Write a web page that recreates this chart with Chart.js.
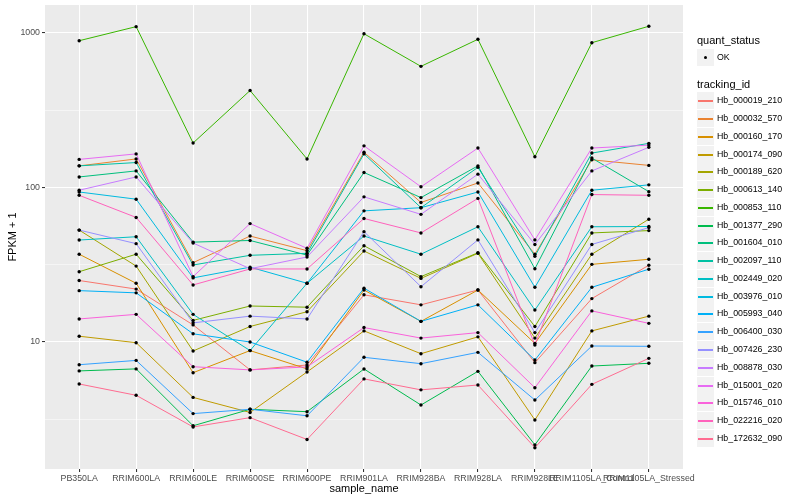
<!DOCTYPE html>
<html>
<head>
<meta charset="utf-8">
<script src="https://cdn.jsdelivr.net/npm/chart.js@4.4.1/dist/chart.umd.min.js"></script>
<style>
  html, body { margin: 0; padding: 0; background: #fff; }
  #wrap { position: relative; width: 800px; height: 500px; font-family: "Liberation Sans", Arial, sans-serif; }
  #legend div { position: absolute; white-space: nowrap; }
  .ttl { font-size: 11px; color: #000; line-height: 13px; }
  .lbl { font-size: 8.8px; color: #000; line-height: 11px; }
  .key { width: 17px; height: 17px; background: #f2f2f2; }
</style>
</head>
<body>
<div id="wrap">
  <canvas id="chart" width="800" height="500"></canvas>
  <div id="legend"></div>
</div>
<script>
const SAMPLES = ['PB350LA', 'RRIM600LA', 'RRIM600LE', 'RRIM600SE', 'RRIM600PE', 'RRIM901LA',
                 'RRIM928BA', 'RRIM928LA', 'RRIM928LE', 'RRIM1105LA_Control', 'RRIM1105LA_Stressed'];

const TRACKING_IDS = ['Hb_000019_210', 'Hb_000032_570', 'Hb_000160_170', 'Hb_000174_090', 'Hb_000189_620',
                      'Hb_000613_140', 'Hb_000853_110', 'Hb_001377_290', 'Hb_001604_010', 'Hb_002097_110',
                      'Hb_002449_020', 'Hb_003976_010', 'Hb_005993_040', 'Hb_006400_030', 'Hb_007426_230',
                      'Hb_008878_030', 'Hb_015001_020', 'Hb_015746_010', 'Hb_022216_020', 'Hb_172632_090'];

const COLORS = ['#F8766D', '#EA8331', '#D89000', '#C09B00', '#A3A500', '#7CAE00', '#39B600', '#00BB4E',
                '#00BF7D', '#00C1A3', '#00BFC4', '#00BAE0', '#00B0F6', '#35A2FF', '#9590FF', '#C77CFF',
                '#E76BF3', '#FA62DB', '#FF62BC', '#FF6C91'];

// FPKM + 1 per sample, same order as SAMPLES
const hb_000019_210 = [25, 22, 12.9, 6.6, 7.1, 20.2, 17.4, 21.7, 7.35, 19.1, 31.4];
const hb_000032_570 = [138, 153, 32.6, 48.5, 39, 169, 80, 107, 37, 151, 139];
const hb_000160_170 = [37, 24, 6.33, 8.8, 6.7, 21.7, 13.6, 21.7, 9.8, 31.8, 34.3];
const hb_000174_090 = [10.9, 9.9, 4.38, 3.5, 6.4, 11.8, 8.4, 10.8, 3.13, 11.8, 14.7];
const hb_000189_620 = [53, 31, 8.75, 12.6, 15.7, 38.8, 25.8, 37.5, 10.6, 37, 62.3];
const hb_000613_140 = [28.5, 37, 13.8, 17.1, 16.8, 42, 26.5, 37.8, 12.6, 50.8, 52.6];
const hb_000853_110 = [891, 1099, 194, 424, 153, 988, 608, 910, 158, 865, 1105];
const hb_001377_290 = [6.5, 6.7, 2.87, 3.67, 3.54, 6.69, 3.91, 6.46, 2.16, 6.99, 7.28];
const hb_001604_010 = [117, 128, 44.3, 45.4, 36.5, 125, 86, 138, 29.8, 155, 94];
const hb_002097_110 = [138, 145, 31.5, 36.4, 37.5, 165, 74, 135, 35.9, 167, 193];
const hb_002449_020 = [45.7, 48, 15.1, 8.8, 24, 48.5, 37, 55.7, 16.1, 55.7, 55.9];
const hb_003976_010 = [93.5, 84, 26, 30.5, 24, 70.6, 74, 93.5, 22.6, 96, 104];
const hb_005993_040 = [21.5, 20.8, 11.3, 10, 7.4, 22.3, 13.6, 17.4, 7.64, 22.6, 29.6];
const hb_006400_030 = [7.13, 7.6, 3.44, 3.67, 3.33, 7.96, 7.24, 8.57, 4.21, 9.42, 9.38];
const hb_007426_230 = [53, 43.3, 13.3, 14.7, 14.1, 51.8, 22.8, 45.8, 11.5, 42.8, 55];
const hb_008878_030 = [96, 117, 43.7, 29.8, 35.5, 87, 67, 122, 42.8, 128, 182];
const hb_015001_020 = [152, 165, 26.5, 58.4, 40.4, 186, 101, 180, 45.8, 180, 188];
const hb_015746_010 = [14.1, 15.1, 6.92, 6.6, 6.9, 12.4, 10.6, 11.5, 5.06, 15.9, 13.2];
const hb_022216_020 = [89, 64, 23.4, 29.7, 29.7, 63, 50.8, 85, 9.56, 90, 89];
const hb_172632_090 = [5.35, 4.52, 2.82, 3.24, 2.34, 5.77, 4.9, 5.27, 2.07, 5.32, 7.84];

const SERIES = [hb_000019_210, hb_000032_570, hb_000160_170, hb_000174_090, hb_000189_620,
                hb_000613_140, hb_000853_110, hb_001377_290, hb_001604_010, hb_002097_110,
                hb_002449_020, hb_003976_010, hb_005993_040, hb_006400_030, hb_007426_230,
                hb_008878_030, hb_015001_020, hb_015746_010, hb_022216_020, hb_172632_090];

const Y_MAJOR = [10, 100, 1000];
const Y_MINOR = [3.1623, 31.623, 316.23];

const AXIS_TEXT = '#4D4D4D';
const FONT = '"Liberation Sans", Arial, sans-serif';

const toPoints = vals => vals.map((v, i) => ({ x: i, y: v }));

const lineSets = SERIES.map((vals, i) => ({
    label: TRACKING_IDS[i],
    data: toPoints(vals),
    borderColor: COLORS[i],
    borderWidth: 1,
    pointRadius: 0,
    tension: 0,
    fill: false,
    order: SERIES.length - i + 1,
}));

const pointSet = {
    label: 'OK',
    data: SERIES.flatMap(toPoints),
    showLine: false,
    pointRadius: 1.7,
    pointBackgroundColor: '#000',
    pointBorderWidth: 0,
    order: 0,
};

const panelBg = {
    id: 'panelBg',
    beforeDraw(chart) {
        const { ctx, chartArea: a } = chart;
        ctx.save();
        ctx.fillStyle = '#EBEBEB';
        ctx.fillRect(a.left, a.top, a.right - a.left, a.bottom - a.top);
        ctx.restore();
    },
};

new Chart(document.getElementById('chart'), {
    type: 'line',
    data: { datasets: [...lineSets, pointSet] },
    plugins: [panelBg],
    options: {
        responsive: false,
        animation: false,
        devicePixelRatio: 1,
        layout: { padding: { left: 0, right: 117, top: 5, bottom: 0 } },
        plugins: { legend: { display: false }, tooltip: { enabled: false } },
        scales: {
            x: {
                type: 'linear',
                min: -0.6,
                max: 10.6,
                afterBuildTicks: s => { s.ticks = SAMPLES.map((_, i) => ({ value: i })); },
                afterFit: s => { s.height = 31; },
                border: { display: false },
                grid: { color: '#fff', lineWidth: 1.07, tickColor: '#333', tickLength: 3 },
                ticks: {
                    autoSkip: false, maxRotation: 0, minRotation: 0, padding: 1,
                    color: AXIS_TEXT, font: { family: FONT, size: 8.8 },
                    callback: v => SAMPLES[v],
                },
                title: {
                    display: true, text: 'sample_name', color: '#000',
                    font: { family: FONT, size: 11 }, padding: { top: 0, bottom: 4 },
                },
            },
            y: {
                type: 'logarithmic',
                min: 1.507,
                max: 1517,
                afterBuildTicks: s => {
                    s.ticks = [...Y_MINOR, ...Y_MAJOR].sort((a, b) => a - b).map(v => ({ value: v }));
                },
                afterFit: s => { s.width = 45; s.paddingTop = 0; s.paddingBottom = 0; },
                border: { display: false },
                grid: {
                    color: '#fff',
                    lineWidth: c => (c.tick && Y_MAJOR.includes(c.tick.value)) ? 1.07 : 0.53,
                    tickColor: c => (c.tick && Y_MAJOR.includes(c.tick.value)) ? '#333' : 'rgba(0,0,0,0)',
                    tickLength: 3,
                },
                ticks: {
                    padding: 2, color: AXIS_TEXT, font: { family: FONT, size: 8.8 },
                    callback: v => Y_MAJOR.includes(v) ? String(v) : '',
                },
                title: {
                    display: true, text: 'FPKM + 1', color: '#000',
                    font: { family: FONT, size: 11 }, padding: { top: 6, bottom: 0 },
                },
            },
        },
    },
});

// legend, ggplot style, on the right
const legend = document.getElementById('legend');
const KEY_X = 697, TEXT_X = 717, KEY = 17;

function addText(cls, text, x, cy, h) {
    const d = document.createElement('div');
    d.className = cls;
    d.textContent = text;
    d.style.left = x + 'px';
    d.style.top = Math.round(cy - h / 2) + 'px';
    legend.appendChild(d);
}

function addKey(cy, color, dot) {
    const k = document.createElement('div');
    k.className = 'key';
    k.style.left = KEY_X + 'px';
    k.style.top = Math.round(cy - KEY / 2) + 'px';
    const m = document.createElement('div');
    if (dot) {
        m.style.cssText = 'left:7px;top:7px;width:3px;height:3px;border-radius:50%;background:#000;';
    } else {
        m.style.cssText = 'left:1px;top:8px;width:15px;height:2px;background:' + color + ';';
    }
    k.appendChild(m);
    legend.appendChild(k);
}

addText('ttl', 'quant_status', KEY_X, 40.5, 13);
addKey(57, null, true);
addText('lbl', 'OK', TEXT_X, 57, 11);
addText('ttl', 'tracking_id', KEY_X, 84.5, 13);
TRACKING_IDS.forEach((id, i) => {
    const cy = 100.7 + i * 17.77;
    addKey(cy, COLORS[i], false);
    addText('lbl', id, TEXT_X, cy, 11);
});
</script>
</body>
</html>
